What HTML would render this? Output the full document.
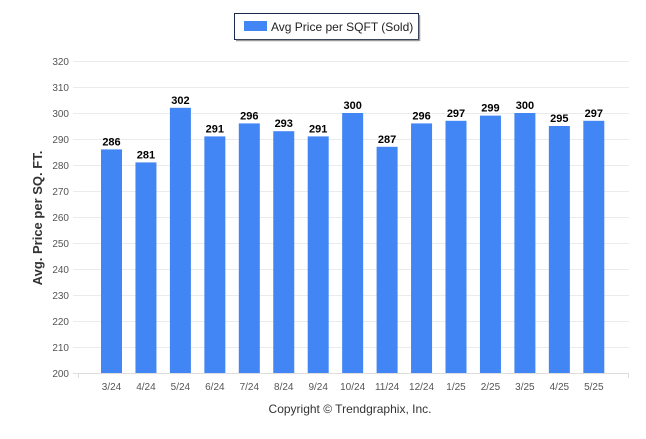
<!DOCTYPE html>
<html><head><meta charset="utf-8"><style>
body{margin:0;background:#fff;font-family:"Liberation Sans",sans-serif;}
svg text{font-family:"Liberation Sans",sans-serif;}
</style></head><body>
<svg id="chart" width="646" height="434" xmlns="http://www.w3.org/2000/svg">
<g>
<rect x="234.5" y="13.5" width="184" height="26" fill="#fff" stroke="#1a2a4a" stroke-width="1"/>
<line x1="236" y1="40.5" x2="419" y2="40.5" stroke="#999" stroke-width="1.5"/>
<line x1="419.5" y1="15" x2="419.5" y2="41" stroke="#999" stroke-width="1.5"/>
<rect x="244" y="21" width="23" height="10" fill="#4285f4"/>
<text x="271" y="31" font-size="12" fill="#222">Avg Price per SQFT (Sold)</text>
</g>
<g id="grid"></g>
<g id="bars"></g>
<text transform="translate(42,218) rotate(-90)" text-anchor="middle" font-size="13" font-weight="bold" fill="#333">Avg. Price per SQ. FT.</text>
<text x="350" y="413" text-anchor="middle" font-size="12" fill="#333">Copyright © Trendgraphix, Inc.</text>
</svg>
<script>
const categories=["3/24","4/24","5/24","6/24","7/24","8/24","9/24","10/24","11/24","12/24","1/25","2/25","3/25","4/25","5/25"];
const values=[286,281,302,291,296,293,291,300,287,296,297,299,300,295,297];
const yTicks=[200,210,220,230,240,250,260,270,280,290,300,310,320];
const NS="http://www.w3.org/2000/svg";
const yMin=200,yMax=320,yTop=61,yBot=373;
function y(v){return yBot-(v-yMin)/(yMax-yMin)*(yBot-yTop);}
function xc(i){return 111.5+i*34.45;}
function mk(tag,attrs,parent){const e=document.createElementNS(NS,tag);for(const k in attrs)e.setAttribute(k,attrs[k]);parent.appendChild(e);return e;}
const grid=document.getElementById('grid'),bars=document.getElementById('bars');
yTicks.forEach(t=>{
  const l=mk('line',{x1:73,x2:629,y1:y(t)+0.5,y2:y(t)+0.5,stroke:t===200?'#ddd':'#ebebeb','stroke-width':1},grid);
  
  
  const tx=mk('text',{x:69,y:y(t)+4,'text-anchor':'end','font-size':10,fill:'#555'},grid);
  tx.textContent=t;
  
  
});
mk('line',{x1:78.5,x2:78.5,y1:yBot,y2:yBot+5,stroke:'#ddd'},grid);
mk('line',{x1:628.5,x2:628.5,y1:yBot,y2:yBot+5,stroke:'#ddd'},grid);
categories.forEach((c,i)=>{
  const v=values[i],cx=xc(i);
  const r=mk('rect',{x:cx-10.5,y:y(v),width:21,height:yBot-y(v),fill:'#4285f4'},bars);
  
  
  const lb=mk('text',{x:cx,y:y(v)-4,'text-anchor':'middle','font-size':11,'font-weight':'bold',fill:'#000'},bars);
  lb.textContent=v;
  
  
  const xl=mk('text',{x:cx,y:390,'text-anchor':'middle','font-size':10,fill:'#555'},bars);
  xl.textContent=c;
  
  
});
</script>
</body></html>
